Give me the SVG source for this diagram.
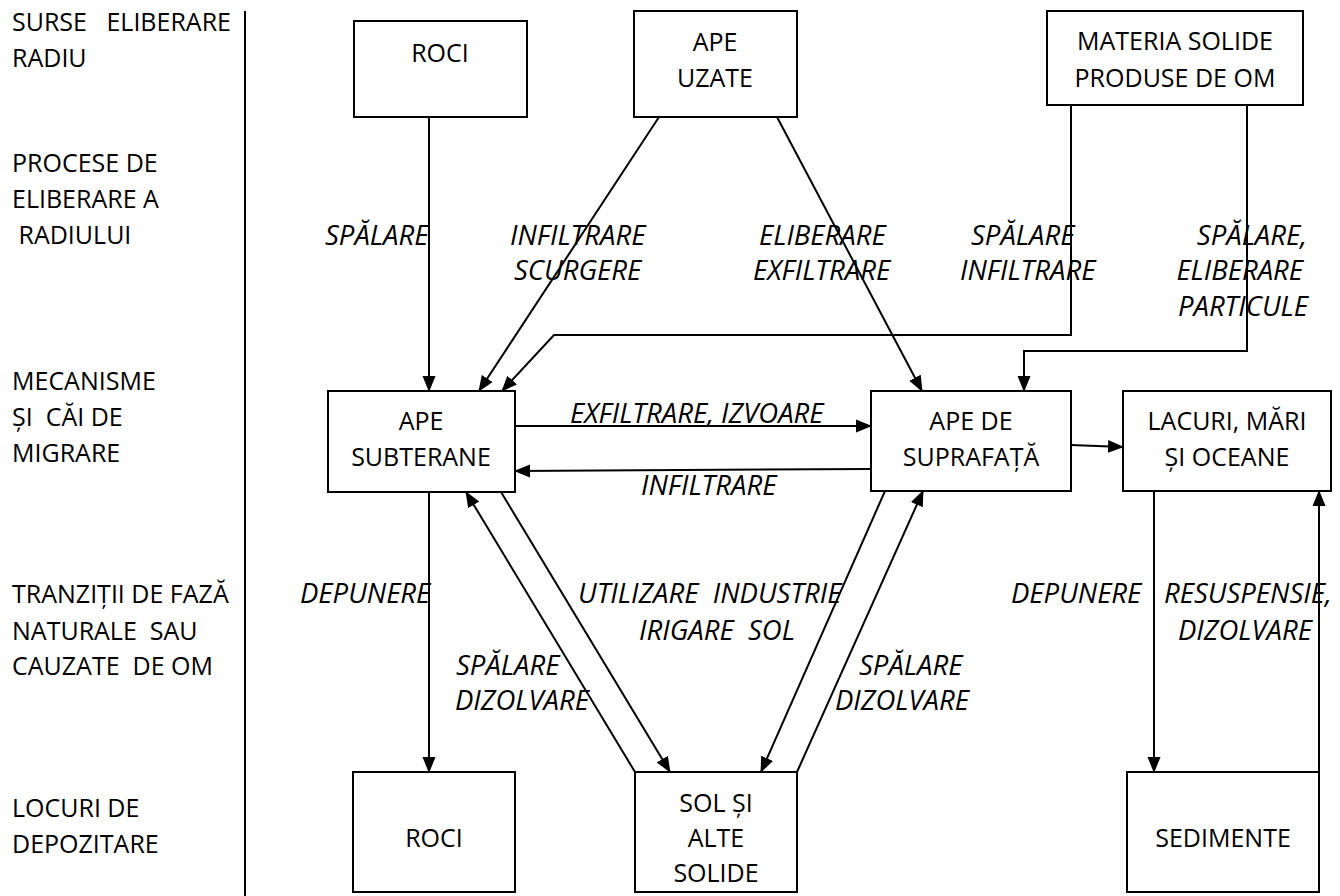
<svg xmlns="http://www.w3.org/2000/svg" width="1340" height="896" viewBox="0 0 1340 896">
<style>
text{font-family:"Open Sans","Noto Sans",sans-serif;font-size:25px;fill:#000;white-space:pre}
.c{text-anchor:middle}
.e{text-anchor:end}
.i{font-style:italic;font-size:27.5px}
.box{fill:#fff;stroke:#000;stroke-width:2}
.cn{fill:none;stroke:#000;stroke-width:2}
</style>
<defs>
<marker id="ah" markerUnits="userSpaceOnUse" markerWidth="16" markerHeight="14" refX="15" refY="6.5" orient="auto" viewBox="0 0 16 13">
<path d="M0,0 L16,6.5 L0,13 z" fill="#000"/>
</marker>
</defs>
<rect width="1340" height="896" fill="#fff"/>
<g id="legend">
<line x1="245" y1="11" x2="245" y2="896" stroke="#000" stroke-width="2"/>
<text xml:space="preserve" x="12" y="31">SURSE   ELIBERARE</text>
<text x="12" y="67">RADIU</text>
<text x="12" y="172">PROCESE DE</text>
<text x="12" y="208">ELIBERARE A</text>
<text xml:space="preserve" x="12" y="244"> RADIULUI</text>
<text x="12" y="390">MECANISME</text>
<text xml:space="preserve" x="12" y="426">ȘI  CĂI DE</text>
<text x="12" y="462">MIGRARE</text>
<text x="12" y="603">TRANZIȚII DE FAZĂ</text>
<text xml:space="preserve" x="12" y="640">NATURALE  SAU</text>
<text xml:space="preserve" x="12" y="675">CAUZATE  DE OM</text>
<text x="12" y="817">LOCURI DE</text>
<text x="12" y="853">DEPOZITARE</text>
</g>
<g id="connectors">
<path class="cn" d="M429,117 L429,391" marker-end="url(#ah)"/>
<path class="cn" d="M659,117 L479,391" marker-end="url(#ah)"/>
<path class="cn" d="M1071,105 L1071,335 L554,335 L502,391" marker-end="url(#ah)"/>
<path class="cn" d="M777,117 L922,391" marker-end="url(#ah)"/>
<path class="cn" d="M1247,105 L1247,351 L1024,351 L1024,391" marker-end="url(#ah)"/>
<path class="cn" d="M515,426 L871,426" marker-end="url(#ah)"/>
<path class="cn" d="M871,469 L515,471" marker-end="url(#ah)"/>
<path class="cn" d="M1071,445 L1123,447" marker-end="url(#ah)"/>
<path class="cn" d="M429,492 L429,772" marker-end="url(#ah)"/>
<path class="cn" d="M635,772 L466,492" marker-end="url(#ah)"/>
<path class="cn" d="M501,492 L670,772" marker-end="url(#ah)"/>
<path class="cn" d="M885,491 L761,772" marker-end="url(#ah)"/>
<path class="cn" d="M797,772 L923,491" marker-end="url(#ah)"/>
<path class="cn" d="M1154,491 L1154,772" marker-end="url(#ah)"/>
<path class="cn" d="M1319,772 L1319,491" marker-end="url(#ah)"/>
</g>
<g id="labels">
<text class="i" x="325" y="245">SPĂLARE</text>
<text class="i" x="510" y="245">INFILTRARE</text>
<text class="i" x="514" y="280">SCURGERE</text>
<text class="i" x="759" y="245">ELIBERARE</text>
<text class="i" x="753" y="280">EXFILTRARE</text>
<text class="i" x="971" y="245">SPĂLARE</text>
<text class="i" x="960" y="280">INFILTRARE</text>
<text class="i e" x="1307" y="245">SPĂLARE,</text>
<text class="i e" x="1303" y="280">ELIBERARE</text>
<text class="i e" x="1308" y="316">PARTICULE</text>
<text class="i" x="570" y="423">EXFILTRARE, IZVOARE</text>
<text class="i" x="641" y="495">INFILTRARE</text>
<text class="i" x="300" y="603">DEPUNERE</text>
<text xml:space="preserve" class="i" x="578" y="603">UTILIZARE  INDUSTRIE</text>
<text xml:space="preserve" class="i" x="639" y="640">IRIGARE  SOL</text>
<text class="i" x="456" y="675">SPĂLARE</text>
<text class="i" x="455" y="710">DIZOLVARE</text>
<text class="i" x="859" y="675">SPĂLARE</text>
<text class="i" x="835" y="710">DIZOLVARE</text>
<text class="i" x="1011" y="603">DEPUNERE</text>
<text class="i" x="1164" y="603">RESUSPENSIE,</text>
<text class="i" x="1178" y="640">DIZOLVARE</text>
</g>
<g id="roci-sus">
<rect class="box" x="354" y="21" width="173" height="96"/>
<text class="c" x="440" y="62">ROCI</text>
</g>
<g id="ape-uzate">
<rect class="box" x="634" y="11" width="163" height="106"/>
<text class="c" x="715" y="51">APE</text>
<text class="c" x="715" y="87">UZATE</text>
</g>
<g id="materia-solide">
<rect class="box" x="1047" y="11" width="256" height="94"/>
<text class="c" x="1175" y="50">MATERIA SOLIDE</text>
<text class="c" x="1175" y="87">PRODUSE DE OM</text>
</g>
<g id="ape-subterane">
<rect class="box" x="328" y="391" width="187" height="101"/>
<text class="c" x="421" y="430">APE</text>
<text class="c" x="421" y="466">SUBTERANE</text>
</g>
<g id="ape-suprafata">
<rect class="box" x="871" y="391" width="200" height="100"/>
<text class="c" x="971" y="430">APE DE</text>
<text class="c" x="971" y="466">SUPRAFAȚĂ</text>
</g>
<g id="lacuri">
<rect class="box" x="1123" y="391" width="208" height="100"/>
<text class="c" x="1227" y="430">LACURI, MĂRI</text>
<text class="c" x="1227" y="466">ȘI OCEANE</text>
</g>
<g id="roci-jos">
<rect class="box" x="353" y="772" width="162" height="120"/>
<text class="c" x="434" y="847">ROCI</text>
</g>
<g id="sol">
<rect class="box" x="635" y="772" width="162" height="120"/>
<text class="c" x="716" y="812">SOL ȘI</text>
<text class="c" x="716" y="847">ALTE</text>
<text class="c" x="716" y="882">SOLIDE</text>
</g>
<g id="sedimente">
<rect class="box" x="1127" y="772" width="192" height="120"/>
<text class="c" x="1223" y="847">SEDIMENTE</text>
</g>
</svg>
